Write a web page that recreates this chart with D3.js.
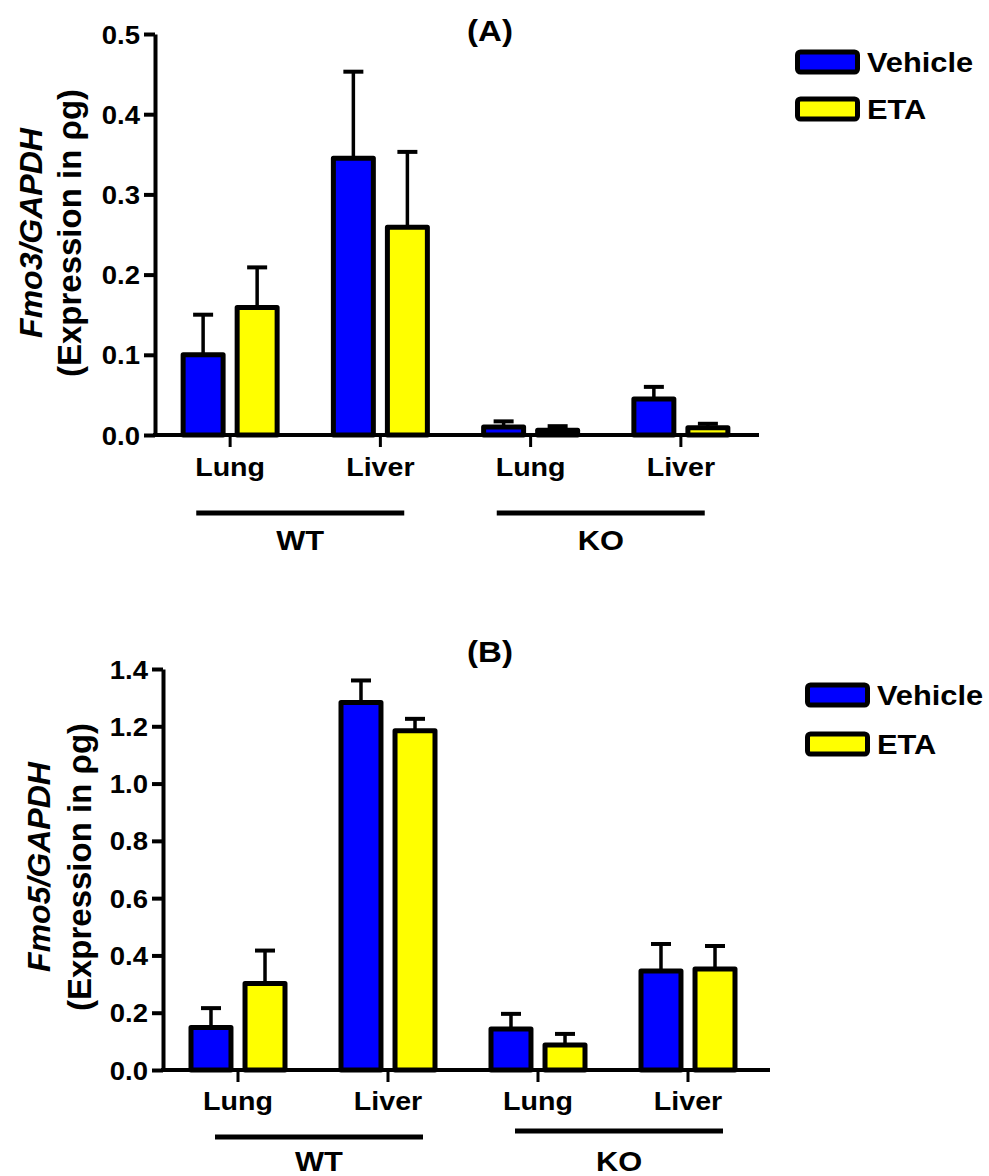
<!DOCTYPE html>
<html><head><meta charset="utf-8">
<script src="https://cdn.jsdelivr.net/npm/d3@7"></script>
<style>
body{margin:0;background:#fff}
svg{display:block}
text{font-family:"Liberation Sans",Arial,Helvetica,sans-serif;font-weight:bold;fill:#000}
</style>
</head><body>
<svg id="c" width="989" height="1176"></svg>
<script>
// ---------------- data ----------------
const tissues = ["Lung", "Liver", "Lung", "Liver"];
const genotypes = ["WT", "WT", "KO", "KO"];
const genotypeGroups = ["WT", "KO"];
const series = ["Vehicle", "ETA"];
const seriesColors = ["#0000FF", "#FFFF00"];

const fmo3Vehicle    = [0.100, 0.345, 0.010, 0.045];
const fmo3VehicleSem = [0.050, 0.108, 0.007, 0.015];
const fmo3ETA        = [0.159, 0.259, 0.006, 0.009];
const fmo3ETASem     = [0.050, 0.094, 0.005, 0.005];

const fmo5Vehicle    = [0.148, 1.283, 0.143, 0.346];
const fmo5VehicleSem = [0.068, 0.077, 0.053, 0.094];
const fmo5ETA        = [0.302, 1.184, 0.087, 0.353];
const fmo5ETASem     = [0.115, 0.042, 0.039, 0.080];

const fmo3Ticks = [0.0, 0.1, 0.2, 0.3, 0.4, 0.5];
const fmo5Ticks = [0.0, 0.2, 0.4, 0.6, 0.8, 1.0, 1.2, 1.4];

// ---------------- layout ----------------
const SX = 1.1; // horizontal stretch of the lettering in the original
const svg = d3.select("#c");

const panels = [
  {title: "(A)", gene: "Fmo3/GAPDH", means: [fmo3Vehicle, fmo3ETA], sems: [fmo3VehicleSem, fmo3ETASem],
   ticks: fmo3Ticks, left: 155, right: 756, axisEnd: 759, yTop: 34, yBot: 435,
   titleX: 490, titleY: 41, legendX: 795, legendY: [62, 109], ylabX: [42, 81], ylabY: 233,
   catY: 41, brY: [513, 513], brShift: -5, gtY: 550},
  {title: "(B)", gene: "Fmo5/GAPDH", means: [fmo5Vehicle, fmo5ETA], sems: [fmo5VehicleSem, fmo5ETASem],
   ticks: fmo5Ticks, left: 163, right: 763, axisEnd: 770, yTop: 669, yBot: 1070,
   titleX: 490, titleY: 662, legendX: 805, legendY: [695, 744], ylabX: [50, 91], ylabY: 867,
   catY: 40, brY: [1137, 1131], brShift: 6, gtY: 1171}
];

function stext(parent, x, y, str, anchor, size) {
  const g = parent.append("g").attr("transform", `translate(${x},${y}) scale(${SX},1)`);
  return g.append("text").attr("text-anchor", anchor).style("font-size", size + "px").text(str);
}

panels.forEach(p => {
  const root = svg.append("g");
  const idx = d3.range(tissues.length);
  const x0 = d3.scaleBand().domain(idx).range([p.left, p.right]).padding(0);
  const half = x0.bandwidth() / 2;
  const xIn = d3.scaleBand().domain(series).range([half - 47, half + 47]).paddingInner(0.26);
  const y = d3.scaleLinear().domain([0, d3.max(p.ticks)]).range([p.yBot, p.yTop]);

  // error bars (upper only)
  series.forEach((s, si) => {
    const eg = root.append("g");
    idx.forEach(i => {
      const cx = x0(i) + xIn(s) + xIn.bandwidth() / 2;
      const m = p.means[si][i], e = p.sems[si][i];
      eg.append("line").attr("x1", cx).attr("x2", cx).attr("y1", y(m)).attr("y2", y(m + e))
        .attr("stroke", "#000").attr("stroke-width", 3.5);
      eg.append("line").attr("x1", cx - 10).attr("x2", cx + 10).attr("y1", y(m + e)).attr("y2", y(m + e))
        .attr("stroke", "#000").attr("stroke-width", 4);
    });
  });

  // bars
  series.forEach((s, si) => {
    root.append("g").selectAll("rect").data(idx).join("rect")
      .attr("x", i => x0(i) + xIn(s))
      .attr("width", xIn.bandwidth())
      .attr("y", i => y(p.means[si][i]))
      .attr("height", i => y(0) - y(p.means[si][i]))
      .attr("fill", seriesColors[si])
      .attr("stroke", "#000").attr("stroke-width", 5).attr("stroke-linejoin", "round");
  });

  // y axis
  const ya = root.append("g").attr("transform", `translate(${p.left},0)`)
    .call(d3.axisLeft(y).tickValues(p.ticks).tickSize(11).tickSizeOuter(0).tickFormat(d3.format(".1f")));
  ya.select(".domain").attr("stroke", "#000").attr("stroke-width", 4);
  ya.selectAll(".tick line").attr("stroke", "#000").attr("stroke-width", 4);
  ya.selectAll(".tick text").attr("x", -15 / SX).attr("dy", "0.36em")
    .attr("transform", `scale(${SX},1)`)
    .style("font-size", "25px").attr("font-family", null);

  // x axis
  root.append("line").attr("x1", p.left - 2).attr("x2", p.axisEnd).attr("y1", y(0)).attr("y2", y(0))
    .attr("stroke", "#000").attr("stroke-width", 4);
  const xa = root.append("g").attr("transform", `translate(0,${y(0)})`)
    .call(d3.axisBottom(x0).tickSize(12).tickSizeOuter(0).tickFormat(i => tissues[i]));
  xa.select(".domain").remove();
  xa.selectAll(".tick line").attr("stroke", "#000").attr("stroke-width", 3);
  xa.selectAll(".tick text").attr("y", p.catY).attr("dy", 0)
    .attr("transform", `scale(${SX},1)`)
    .style("font-size", "26px").attr("font-family", null);

  // genotype brackets
  genotypeGroups.forEach((gname, gi) => {
    const members = idx.filter(i => genotypes[i] === gname);
    const c0 = x0(members[0]) + half, c1 = x0(members[members.length - 1]) + half;
    const mid = (c0 + c1) / 2 + p.brShift;
    root.append("line").attr("x1", mid - 104).attr("x2", mid + 104)
      .attr("y1", p.brY[gi]).attr("y2", p.brY[gi]).attr("stroke", "#000").attr("stroke-width", 5);
    stext(root, mid, p.gtY, gname, "middle", 28);
  });

  // title
  stext(root, p.titleX, p.titleY, p.title, "middle", 30);

  // y label
  const yl1 = root.append("g").attr("transform", `translate(${p.ylabX[0]},${p.ylabY}) rotate(-90)`);
  yl1.append("text").attr("text-anchor", "middle").style("font-size", "32px")
    .style("font-style", "italic").text(p.gene);
  const yl2 = root.append("g").attr("transform", `translate(${p.ylabX[1]},${p.ylabY}) rotate(-90)`);
  yl2.append("text").attr("text-anchor", "middle").style("font-size", "33px")
    .text("(Expression in \u03C1g)");

  // legend
  series.forEach((s, si) => {
    const cy = p.legendY[si];
    root.append("rect").attr("x", p.legendX + 2.5).attr("y", cy - 10).attr("width", 60).attr("height", 20)
      .attr("rx", 3).attr("fill", seriesColors[si]).attr("stroke", "#000").attr("stroke-width", 5);
    stext(root, p.legendX + 72, cy + 10, s, "start", 28);
  });
});
</script>
</body></html>
